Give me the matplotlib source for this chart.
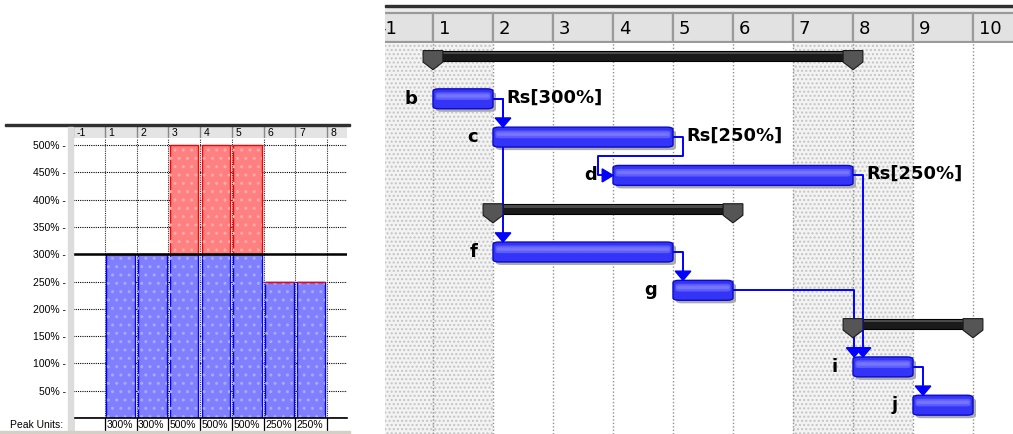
import matplotlib
matplotlib.use("Agg")
import matplotlib.pyplot as plt
from matplotlib.patches import Rectangle, FancyBboxPatch, Polygon

plt.rcParams['font.family'] = ['Liberation Sans', 'DejaVu Sans']
plt.rcParams['hatch.linewidth'] = 1.0

W, H = 1013, 434

# resource histogram (left panel)
hist_labels = ['-1', '1', '2', '3', '4', '5', '6', '7', '8']
hist_alloc = [0, 300, 300, 300, 300, 300, 250, 250, 0]
hist_over = [0, 0, 0, 200, 200, 200, 0, 0, 0]
max_units = 300
hist_ticks = [50, 100, 150, 200, 250, 300, 350, 400, 450, 500]

# gantt chart (right panel)
day_labels = ['-1', '1', '2', '3', '4', '5', '6', '7', '8', '9', '10']
nonwork_days = ['-1', '1', '7', '8']
task_names = ['b', 'c', 'd', 'f', 'g', 'i', 'j']
task_start_day = [1, 2, 4, 2, 5, 8, 9]
task_days = [1, 3, 4, 3, 1, 1, 1]
task_group = [0, 0, 0, 1, 1, 2, 2]
res_labels = {'b': 'Rs[300%]', 'c': 'Rs[250%]', 'd': 'Rs[250%]'}
links = [('b', 'c'), ('b', 'f'), ('c', 'd'), ('d', 'i'),
         ('f', 'g'), ('g', 'i'), ('i', 'j')]


def px_axes(fig, x0, y0, x1, y1):
    """ axes placed by pixel box (top-left origin) """
    ax = fig.add_axes([x0 / W, 1 - y1 / H, (x1 - x0) / W, (y1 - y0) / H])
    return ax


def day_pos(label):
    # column "-1" sits just before "1", there is no day 0
    return day_labels.index(label) - 1


fig = plt.figure(figsize=(W / 100, H / 100), dpi=100)
fig.patch.set_facecolor('white')

# ---------------- left panel: histogram ----------------
# frame pieces
fig.add_artist(Rectangle((5 / W, 1 - 126 / H), 345 / W, 1.6 / H,
                         transform=fig.transFigure, color='#303030'))
fig.add_artist(Rectangle((68 / W, 0), 5 / W, 1 - 127 / H,
                         transform=fig.transFigure, color='#dcdcdc'))
fig.add_artist(Rectangle((0, 0), 350 / W, 3 / H,
                         transform=fig.transFigure, color='#d4d0c8'))

ncol = len(hist_labels)
xmax = (347 - 73) / 31.75

hd = px_axes(fig, 73, 127, 347, 138)
hd.set_xlim(0, xmax)
hd.set_ylim(0, 1)
hd.axis('off')
hd.add_patch(Rectangle((0, 0), xmax, 1, facecolor='#e4e4e4', edgecolor='none'))
for k, lab in enumerate(hist_labels):
    hd.plot([k, k], [0, 1], color='#888888', lw=1)
    hd.text(k + 0.12, 0.45, lab, fontsize=7.5, va='center', ha='left')

ax = px_axes(fig, 73, 138, 347, 418)
ax.set_xlim(0, xmax)
ax.set_ylim(0, (418 - 138) / 0.546)
for s in ['top', 'right', 'left']:
    ax.spines[s].set_visible(False)
ax.spines['bottom'].set_linewidth(1.2)
ax.set_xticks([])
ax.set_yticks(hist_ticks)
ax.set_yticklabels([f'{v}% -' for v in hist_ticks], fontsize=7.5)
ax.tick_params(axis='y', length=0, pad=5)
for v in hist_ticks:
    ax.axhline(v, color='black', lw=0.8, ls=(0, (1, 1)), zorder=1)
for k in range(1, ncol):
    ax.axvline(k, color='#303030', lw=0.8, ls=(0, (1, 1)), zorder=1)

xs = [k + 0.5 for k in range(ncol)]
ax.bar(xs, hist_alloc, width=0.9, color='#8080ff', edgecolor='#0000ff',
       lw=1, zorder=2)
ax.bar(xs, hist_alloc, width=0.9, fill=False, hatch='..',
       edgecolor='#a8a8ff', lw=0, zorder=2)
ax.bar(xs, hist_over, width=0.9, bottom=hist_alloc, color='#ff8080',
       edgecolor='#ff0000', lw=1, zorder=2)
ax.bar(xs, hist_over, width=0.9, bottom=hist_alloc, fill=False, hatch='..',
       edgecolor='#ffaaaa', lw=0, zorder=2)
ax.axhline(max_units, color='black', lw=1.8, zorder=3)

# peak units row
pk = px_axes(fig, 73, 418, 347, 431)
pk.set_xlim(0, xmax)
pk.set_ylim(0, 1)
pk.axis('off')
for k in range(ncol):
    pk.plot([k, k], [0, 1], color='black', lw=0.9)
    peak = hist_alloc[k] + hist_over[k]
    if peak > 0:
        pk.text(k + 0.05, 0.45, f'{peak}%', fontsize=7.5, va='center', ha='left')
fig.text(63 / W, 1 - 425 / H, 'Peak Units:', fontsize=7.5, ha='right', va='center')

# ---------------- right panel: gantt ----------------
ux0 = (385 - 433) / 60
ux1 = (1013 - 433) / 60

# header
fig.add_artist(Rectangle((385 / W, 1 - 7 / H), (W - 385) / W, 2.2 / H,
                         transform=fig.transFigure, color='#303030'))
gh = px_axes(fig, 385, 7, 1013, 43)
gh.set_xlim(ux0, ux1)
gh.set_ylim(0, 1)
gh.axis('off')
gh.add_patch(Rectangle((ux0, 0.82), ux1 - ux0, 0.18, facecolor='#ececec',
                       edgecolor='none'))
for lab in day_labels:
    u = day_pos(lab)
    gh.add_patch(Rectangle((u, 0.02), 1, 0.8, facecolor='#e2e2e2',
                           edgecolor='#9a9a9a', lw=1.6))
    gh.text(u + 0.1, 0.4, lab, fontsize=13, va='center', ha='left',
            family='DejaVu Sans', clip_on=True)

g = px_axes(fig, 385, 43, 1013, 434)
g.set_xlim(ux0, ux1)
row_a, row_b = 60.5, 38.3
g.set_ylim((434 - row_a) / row_b, (43 - row_a) / row_b)
g.axis('off')

for lab in nonwork_days:
    u = day_pos(lab)
    g.axvspan(u, u + 1, facecolor='#f3f3f3', edgecolor='#c4c4c4',
              hatch='....', lw=0, zorder=0)
for u in range(0, 10):
    g.axvline(u, color='#909090', lw=1, ls=(0, (1, 1.5)), zorder=1)

# row layout: group summary row then its tasks
rows = {}
sum_rows = []
r = 0
for gi in sorted(set(task_group)):
    sum_rows.append(r)
    r += 1
    for name, tg in zip(task_names, task_group):
        if tg == gi:
            rows[name] = r
            r += 1

start = {n: s - 1 for n, s in zip(task_names, task_start_day)}
finish = {n: s - 1 + d for n, s, d in zip(task_names, task_start_day, task_days)}

aspect = 60 / row_b
half_h = 0.26

# summary bars
for gi, sr in enumerate(sum_rows):
    members = [n for n, tg in zip(task_names, task_group) if tg == gi]
    s = min(start[n] for n in members)
    e = max(finish[n] for n in members)
    yc = sr - 0.12
    top, bot = yc - 0.14, yc + 0.14
    g.add_patch(Rectangle((s, top), e - s, bot - top, facecolor='#1a1a1a',
                          edgecolor='#000000', lw=0.8, zorder=3))
    g.add_patch(Rectangle((s, top + 0.04), e - s, 0.06, facecolor='#4a4a4a',
                          edgecolor='none', zorder=3))
    for u in (s, e):
        cap = [(u - 0.165, top), (u + 0.165, top), (u + 0.165, bot + 0.02),
               (u, bot + 0.22), (u - 0.165, bot + 0.02)]
        g.add_patch(Polygon(cap, closed=True, facecolor='#555555',
                            edgecolor='#1a1a1a', lw=0.8, zorder=4))

# task bars
for n in task_names:
    s, e, rr = start[n], finish[n], rows[n]
    g.add_patch(FancyBboxPatch((s + 0.05, rr - half_h + 0.08), e - s, 2 * half_h,
                               boxstyle='round,pad=0,rounding_size=0.1',
                               mutation_aspect=1 / aspect, facecolor='#ababab',
                               edgecolor='none', zorder=3))
    g.add_patch(FancyBboxPatch((s, rr - half_h), e - s, 2 * half_h,
                               boxstyle='round,pad=0,rounding_size=0.1',
                               mutation_aspect=1 / aspect, facecolor='#3434f8',
                               edgecolor='#0a0ac8', lw=1, zorder=4))
    g.add_patch(FancyBboxPatch((s + 0.04, rr - 0.17), e - s - 0.08, 0.2,
                               boxstyle='round,pad=0,rounding_size=0.06',
                               mutation_aspect=1 / aspect, facecolor='#5c5cff',
                               edgecolor='none', zorder=4))
    g.add_patch(FancyBboxPatch((s + 0.06, rr - 0.12), e - s - 0.12, 0.09,
                               boxstyle='round,pad=0,rounding_size=0.04',
                               mutation_aspect=1 / aspect, facecolor='#7474ff',
                               edgecolor='none', zorder=4))
    g.text(s - 0.26, rr, n, fontsize=13, fontweight='bold', ha='right',
           va='center', family='DejaVu Sans', zorder=5)
    if n in res_labels:
        g.text(e + 0.23, rr - 0.03, res_labels[n], fontsize=13, fontweight='bold',
               ha='left', va='center', family='DejaVu Sans', zorder=5)

# links
lc = '#0000ff'
for a, b in links:
    ea, ra = finish[a], rows[a]
    sb, rb = start[b], rows[b]
    top_b = rb - half_h
    if sb < ea:
        mid = ra + 0.5
        xa = ea + 0.167
        xb = sb - 0.25
        g.plot([ea, xa, xa, xb, xb, sb - 0.15], [ra, ra, mid, mid, rb, rb],
               color=lc, lw=1.4, zorder=3, solid_joinstyle='round')
        g.add_patch(Polygon([(sb - 0.18, rb - 0.17), (sb - 0.18, rb + 0.17),
                             (sb, rb)], closed=True, color=lc, zorder=5))
    else:
        xa = max(ea + 0.167, sb + 0.02)
        g.plot([ea, xa, xa], [ra, ra, top_b - 0.2], color=lc, lw=1.4,
               zorder=3, solid_joinstyle='round')
        g.add_patch(Polygon([(xa - 0.13, top_b - 0.24), (xa + 0.13, top_b - 0.24),
                             (xa, top_b)], closed=True, color=lc, zorder=5))

fig.savefig('out.png', dpi=100, facecolor='white')
